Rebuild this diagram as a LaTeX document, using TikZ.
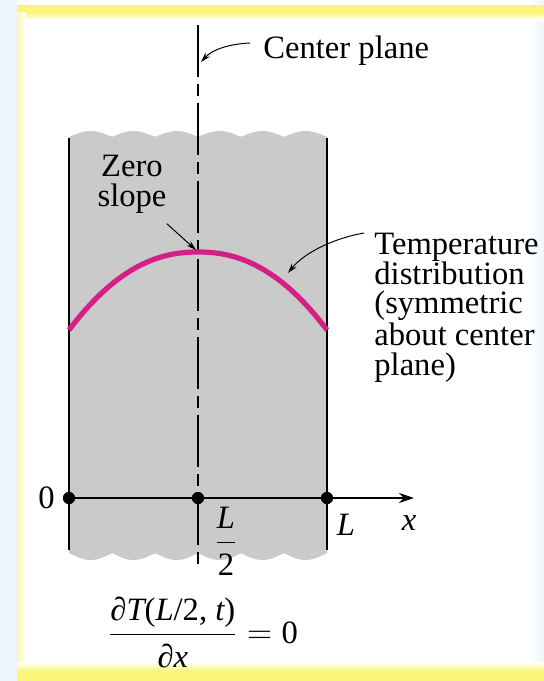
\documentclass[tikz,border=0pt]{standalone}
\usepackage{fontspec}
\setmainfont{Liberation Serif}
\usetikzlibrary{arrows.meta,positioning}
\definecolor{bgb}{RGB}{239,245,252}
\definecolor{bandy}{RGB}{248,245,120}
\definecolor{slabg}{RGB}{202,202,202}
\definecolor{tprof}{RGB}{214,30,135}
\tikzset{
  lbl/.style={font=\fontsize{16.3}{14.8}\selectfont,inner sep=0pt},
  wall/.style={line width=1pt},
  midplane/.style={line width=1.3pt,dash pattern=on 26pt off 3.5pt on 6pt off 3.5pt},
  xaxis/.style={line width=1.3pt,-{Stealth[length=7.5pt,width=5pt]}},
  tcurve/.style={draw=tprof,line width=2.6pt},
  ptr/.style={line width=0.5pt,-{Stealth[length=5pt,width=3pt]}},
  dot/.style={circle,fill,inner sep=0pt,minimum size=6pt},
}
\begin{document}
\begin{tikzpicture}[x=0.5pt,y=-0.5pt]
        \useasboundingbox (0,0) rectangle (544,681);
        \fill[bgb] (0,0) rectangle (544,681);
        \fill[white] (17,0) rectangle (528,681);
        \shade[left color=white,right color=bgb] (528,0) rectangle (544,681);
        \fill[bandy] (17,5) rectangle (544,12);
        \shade[top color=bandy,bottom color=white] (17,12) rectangle (544,20);
        \shade[left color=bandy!60,right color=white] (17,12) rectangle (26,668);
        \shade[top color=white,bottom color=bandy] (17,662) rectangle (544,671);
        \fill[bandy] (17,671) rectangle (544,681);
        \fill[slabg] plot[domain=69:327,samples=90] (\x,{137-6*abs(sin((\x-69)/43*180))})
          -- plot[domain=327:69,samples=90] (\x,{553+7*abs(sin((\x-69)/43*180))}) -- cycle;
        \draw[wall] (69,138) -- (69,550);
        \draw[wall] (327,138) -- (327,550);
        \draw[midplane] (198,25) -- (198,566);
        \draw[tcurve] plot[domain=69:327,samples=80] (\x,{252+78*(abs(\x-198)/129)^2.2});
        \node[dot] (o) at (69,498) {};
        \node[dot] (half) at (198,498) {};
        \node[dot] (len) at (327,498) {};
        \coordinate (xend) at (414,498);
        \draw[xaxis] (o.center) -- (xend);
        \node[dot] at (o) {};
        \node[dot] at (half) {};
        \node[dot] at (len) {};
        \node[lbl,anchor=east] (zero) at (55,498) {0};
        \node[lbl] (lhalf) at (226,541) {$\displaystyle\frac{\mbox{\itshape L}}{\mbox{2}}$};
        \node[lbl] (lbig) at (346,525) {\itshape L};
        \node[lbl] (xlbl) at (409,523) {\itshape x};
        \node[lbl,anchor=base west] (cpl) at (263,58) {Center plane};
        \node[lbl,align=center,anchor=north] (zslope) at (132,155) {Zero\\slope};
        \node[lbl,align=left,anchor=north west] (tdist) at (374,233) {Temperature\\distribution\\(symmetric\\about center\\plane)};
        \node[lbl] (dtdx) at (203,632) {$\displaystyle\frac{\mbox{\itshape ∂T\upshape(\itshape L\upshape/2, \itshape t\upshape)}}{\mbox{\itshape ∂x}}=\mbox{0}$};
        \coordinate (cptip) at (201,62);
        \coordinate (cptail) at (250,43);
        \coordinate (ztip) at (196,250);
        \coordinate (ttip) at (288,273);
        \coordinate (ttail) at (364,233);
        \draw[ptr] (cptail) .. controls (228,44) and (212,50) .. (cptip);
        \draw[ptr] ([yshift=-5pt]zslope.south east) -- (ztip);
        \draw[ptr] (ttail) .. controls (335,238) and (305,252) .. (ttip);
      \end{tikzpicture}
\end{document}
